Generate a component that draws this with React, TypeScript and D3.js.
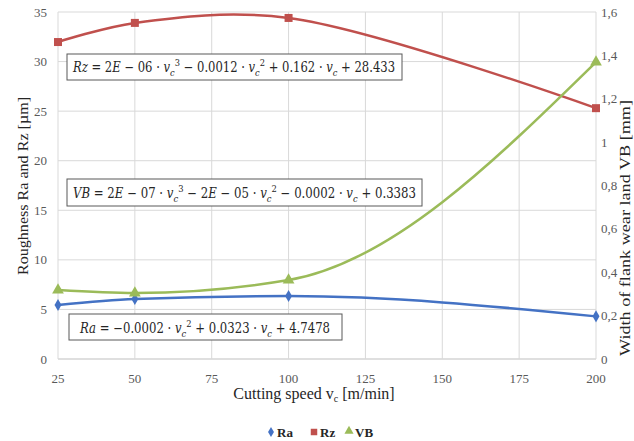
import React from "react";
import * as d3 from "d3";

const speeds = [25, 50, 100, 200];
const raValues = [5.45, 6.05, 6.35, 4.3];
const rzValues = [31.97, 33.9, 34.4, 25.3];
const vbValues = [0.318, 0.304, 0.364, 1.369];
const xTicks = [25, 50, 75, 100, 125, 150, 175, 200];
const leftTicks = [0, 5, 10, 15, 20, 25, 30, 35];
const rightTicks = [0, 0.2, 0.4, 0.6, 0.8, 1, 1.2, 1.4, 1.6];

const W = 634, H = 441;
const M = { left: 58, right: 596, top: 12, bottom: 359 };
const RA_C = "#4472C4", RZ_C = "#C0504D", VB_C = "#9BBB59";
const SERIF = "'Liberation Serif', 'Times New Roman', serif";
const MATH = "'DejaVu Serif', serif";

type Seg = { t: string; i?: boolean; s?: "sub" | "sup" };

const eqRz: Seg[] = [
  { t: "Rz", i: true }, { t: " = 2" }, { t: "E", i: true }, { t: " − 06 · " },
  { t: "v", i: true }, { t: "c", i: true, s: "sub" }, { t: "3", s: "sup" },
  { t: " − 0.0012 · " }, { t: "v", i: true }, { t: "c", i: true, s: "sub" }, { t: "2", s: "sup" },
  { t: " + 0.162 · " }, { t: "v", i: true }, { t: "c", i: true, s: "sub" }, { t: " + 28.433" },
];
const eqVb: Seg[] = [
  { t: "VB", i: true }, { t: " = 2" }, { t: "E", i: true }, { t: " − 07 · " },
  { t: "v", i: true }, { t: "c", i: true, s: "sub" }, { t: "3", s: "sup" },
  { t: " − 2" }, { t: "E", i: true }, { t: " − 05 · " },
  { t: "v", i: true }, { t: "c", i: true, s: "sub" }, { t: "2", s: "sup" },
  { t: " − 0.0002 · " }, { t: "v", i: true }, { t: "c", i: true, s: "sub" }, { t: " + 0.3383" },
];
const eqRa: Seg[] = [
  { t: "Ra", i: true }, { t: " = −0.0002 · " },
  { t: "v", i: true }, { t: "c", i: true, s: "sub" }, { t: "2", s: "sup" },
  { t: " + 0.0323 · " }, { t: "v", i: true }, { t: "c", i: true, s: "sub" }, { t: " + 4.7478" },
];

function Equation({ segs, x, y, len, box }: { segs: Seg[]; x: number; y: number; len: number; box: [number, number, number, number] }) {
  let cur = 0;
  const spans = segs.map((s, k) => {
    const target = s.s === "sub" ? 4 : s.s === "sup" ? -6 : 0;
    const dy = target - cur;
    cur = target;
    return (
      <tspan key={k} dy={dy} fontStyle={s.i ? "italic" : "normal"} fontSize={s.s ? 10 : 14}>
        {s.t}
      </tspan>
    );
  });
  return (
    <g>
      <rect x={box[0]} y={box[1]} width={box[2]} height={box[3]} fill="#fff" stroke="#595959" strokeWidth={1} />
      <text x={x} y={y} fontFamily={MATH} fill="#262626" textLength={len} lengthAdjust="spacingAndGlyphs" style={{ whiteSpace: "pre" }}>
        {spans}
      </text>
    </g>
  );
}

export default function App() {
  const x = d3.scaleLinear().domain([25, 200]).range([M.left, M.right]);
  const yL = d3.scaleLinear().domain([0, 35]).range([M.bottom, M.top]);
  const yR = d3.scaleLinear().domain([0, 1.6]).range([M.bottom, M.top]);
  const curveRz = d3.curveCatmullRom.alpha(0.5);
  const curveMono = d3.curveMonotoneX;
  const lineRz = d3.line<number>().x((_, i) => x(speeds[i])).y((d) => yL(d)).curve(curveRz);
  const lineRa = d3.line<number>().x((_, i) => x(speeds[i])).y((d) => yL(d)).curve(curveMono);
  const lineVb = d3.line<number>().x((_, i) => x(speeds[i])).y((d) => yR(d)).curve(curveMono);
  const diamond = d3.symbol().type(d3.symbolDiamond).size(42)()!;
  const square = d3.symbol().type(d3.symbolSquare).size(64)()!;
  const tri = d3.symbol().type(d3.symbolTriangle).size(60)()!;

  return (
    <svg width={W} height={H} style={{ position: "absolute", left: 0, top: 0, background: "#fff" }}>
      {/* grid */}
      {leftTicks.map((t) => (
        <line key={"h" + t} x1={M.left} x2={M.right} y1={yL(t)} y2={yL(t)} stroke={t === 0 ? "#BFBFBF" : "#D9D9D9"} strokeWidth={1} />
      ))}
      {xTicks.map((t) => (
        <line key={"v" + t} x1={x(t)} x2={x(t)} y1={M.top} y2={M.bottom} stroke="#D9D9D9" strokeWidth={1} />
      ))}
      {/* tick labels */}
      {leftTicks.map((t) => (
        <text key={"lt" + t} x={47} y={yL(t)} dy="0.35em" textAnchor="end" fontFamily={SERIF} fontSize={13} fill="#595959">{t}</text>
      ))}
      {rightTicks.map((t) => (
        <text key={"rt" + t} x={601} y={yR(t)} dy="0.35em" textAnchor="start" fontFamily={SERIF} fontSize={13} fill="#595959">{String(t).replace(".", ",")}</text>
      ))}
      {xTicks.map((t) => (
        <text key={"xt" + t} x={x(t)} y={378} dy="0.35em" textAnchor="middle" fontFamily={SERIF} fontSize={13} fill="#595959">{t}</text>
      ))}
      {/* axis titles */}
      <text transform="translate(23,186) rotate(-90)" textAnchor="middle" dy="0.35em" fontFamily={SERIF} fontSize={15} fill="#262626" textLength={178} lengthAdjust="spacingAndGlyphs">Roughness Ra and Rz [µm]</text>
      <text transform="translate(625,228) rotate(-90)" textAnchor="middle" dy="0.35em" fontFamily={SERIF} fontSize={15} fill="#262626" textLength={256} lengthAdjust="spacingAndGlyphs">Width of flank wear land VB [mm]</text>
      <text x={314} y={399} textAnchor="middle" fontFamily={SERIF} fontSize={16} fill="#262626">
        Cutting speed v<tspan fontSize={10} dy={3}>c</tspan><tspan dy={-3}> [m/min]</tspan>
      </text>
      {/* series */}
      <path d={lineRz(rzValues)!} fill="none" stroke={RZ_C} strokeWidth={2.5} />
      <path d={lineRa(raValues)!} fill="none" stroke={RA_C} strokeWidth={2.5} />
      <path d={lineVb(vbValues)!} fill="none" stroke={VB_C} strokeWidth={2.5} />
      {rzValues.map((v, i) => <path key={"rz" + i} d={square} transform={`translate(${x(speeds[i])},${yL(v)})`} fill={RZ_C} />)}
      {raValues.map((v, i) => <path key={"ra" + i} d={diamond} transform={`translate(${x(speeds[i])},${yL(v)})`} fill={RA_C} />)}
      {vbValues.map((v, i) => <path key={"vb" + i} d={tri} transform={`translate(${x(speeds[i])},${yR(v)})`} fill={VB_C} />)}
      {/* equations */}
      <Equation segs={eqRz} x={73} y={72} len={322} box={[67, 54, 335, 26]} />
      <Equation segs={eqVb} x={73} y={198} len={343} box={[67, 179, 355, 27]} />
      <Equation segs={eqRa} x={80} y={333} len={250} box={[69, 314, 273, 26]} />
      {/* legend */}
      <g fontFamily={SERIF} fontSize={13} fontWeight="bold" fill="#262626">
        <path d={d3.symbol().type(d3.symbolDiamond).size(30)()!} transform="translate(271,432)" fill={RA_C} />
        <text x={277} y={432} dy="0.35em">Ra</text>
        <path d={d3.symbol().type(d3.symbolSquare).size(42)()!} transform="translate(314,432)" fill={RZ_C} />
        <text x={320} y={432} dy="0.35em">Rz</text>
        <path d={d3.symbol().type(d3.symbolTriangle).size(36)()!} transform="translate(349,431)" fill={VB_C} />
        <text x={355} y={432} dy="0.35em">VB</text>
      </g>
    </svg>
  );
}
